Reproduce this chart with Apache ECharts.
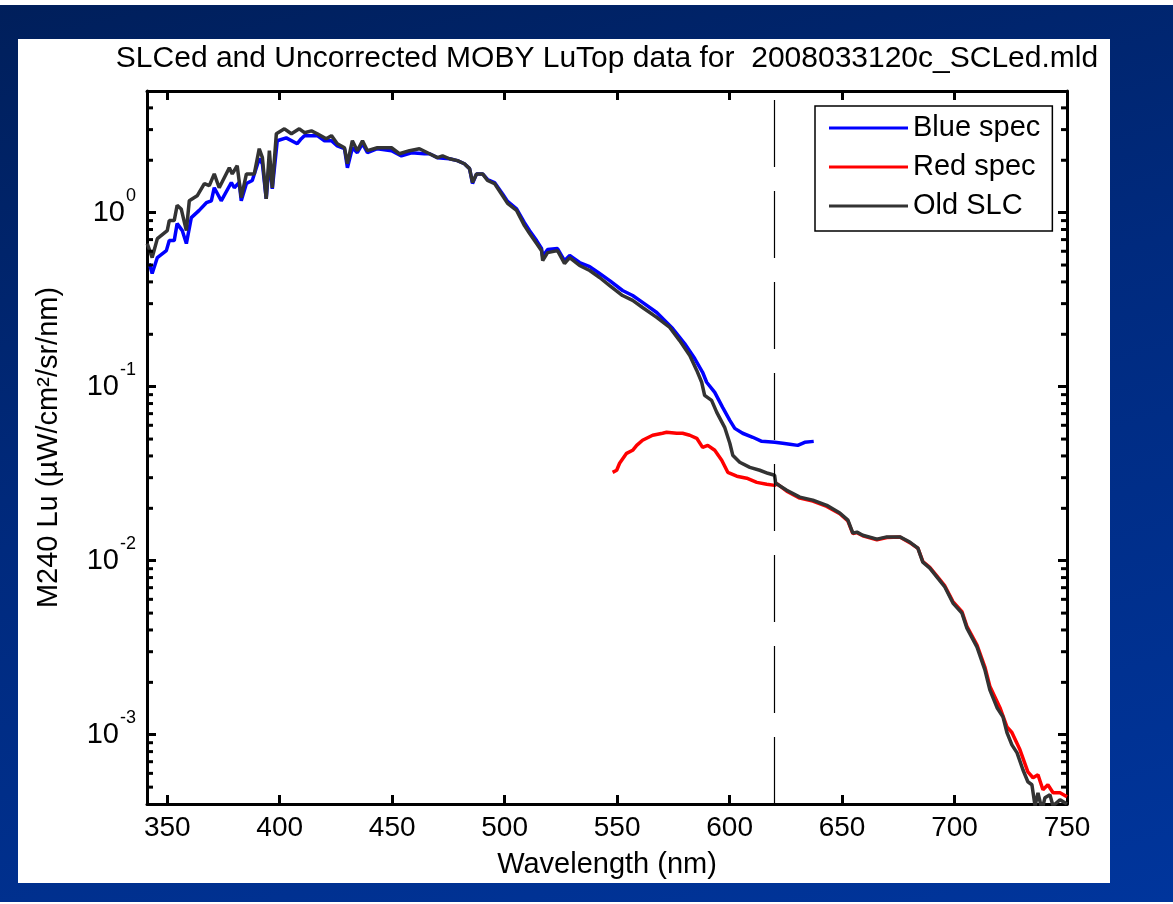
<!DOCTYPE html>
<html>
<head>
<meta charset="utf-8">
<script src="https://cdn.jsdelivr.net/npm/echarts@6/dist/echarts.min.js"></script>
<style>
  html, body { margin: 0; padding: 0; background: #fff; }
  #bg { position: absolute; left: 0; top: 5px; width: 1173px; height: 897px;
        background: linear-gradient(165deg, #001f5b 0%, #002a7e 45%, #00359c 100%); }
  #panel { position: absolute; left: 18px; top: 39px; width: 1092px; height: 844px; background: #fff; }
  #chart { position: absolute; left: 0; top: 0; width: 1173px; height: 904px; }
</style>
</head>
<body>
<div id="bg"></div>
<div id="panel"></div>
<div id="chart"></div>
<script>
// axis ranges
const xMin = 341, xMax = 750;
const yMin = 4e-4, yMax = 5;
const minorTicks = [5e-4, 6e-4, 7e-4, 8e-4, 9e-4,
  2e-3, 3e-3, 4e-3, 5e-3, 6e-3, 7e-3, 8e-3, 9e-3,
  2e-2, 3e-2, 4e-2, 5e-2, 6e-2, 7e-2, 8e-2, 9e-2,
  0.2, 0.3, 0.4, 0.5, 0.6, 0.7, 0.8, 0.9, 2, 3, 4];
const cutoffWl = 620;

// Blue spec
const blueWl = [342.0, 343.3, 345.6, 349.6, 350.9, 353.1, 354.4, 356.7, 358.5, 360.7, 364.2, 367.4, 369.6, 370.9,
  374.0, 378.5, 379.8, 382.0, 382.9, 385.2, 387.8, 390.9, 392.3, 394.0, 395.4, 396.7, 398.9, 402.9, 407.8, 409.6,
  411.0, 414.1, 416.7, 419.9, 423.0, 425.6, 428.8, 430.1, 432.3, 434.5, 436.8, 439.0, 443.4, 449.7, 454.1, 458.6,
  464.3, 466.6, 470.1, 475.5, 479.0, 482.1, 484.4, 485.7, 487.5, 490.2, 492.4, 495.5, 499.1, 501.3, 505.3, 508.8,
  511.1, 514.2, 516.4, 516.9, 519.1, 523.5, 526.6, 528.9, 533.3, 537.8, 542.2, 546.7, 552.4, 556.9, 561.3, 567.6,
  574.7, 580.0, 584.5, 588.0, 589.8, 593.4, 596.9, 600.1, 602.3, 605.8, 610.3, 614.3, 620.1, 623.6, 626.8, 630.3,
  633.4, 637.4];
const blueLu = [0.510, 0.447, 0.552, 0.605, 0.691, 0.691, 0.865, 0.788, 0.664, 0.936, 1.03, 1.14, 1.17, 1.39,
  1.17, 1.49, 1.39, 1.49, 1.17, 1.47, 1.53, 2.04, 1.91, 1.20, 1.99, 1.37, 2.59, 2.69, 2.49, 2.66,
  2.77, 2.77, 2.77, 2.59, 2.59, 2.42, 2.33, 1.81, 2.36, 2.21, 2.49, 2.21, 2.33, 2.27, 2.12, 2.21,
  2.18, 2.18, 2.07, 2.04, 1.99, 1.91, 1.79, 1.47, 1.67, 1.67, 1.55, 1.49, 1.28, 1.16, 1.05, 0.876,
  0.788, 0.691, 0.622, 0.559, 0.614, 0.622, 0.530, 0.567, 0.517, 0.490, 0.447, 0.407, 0.357, 0.334, 0.305, 0.267,
  0.216, 0.177, 0.145, 0.121, 0.106, 0.0927, 0.0761, 0.0641, 0.0576, 0.0540, 0.0512, 0.0485, 0.0479, 0.0473, 0.0467, 0.0460,
  0.0479, 0.0485];

// Red spec
const redWl = [548.0, 549.8, 551.1, 554.2, 556.9, 558.7, 561.3, 565.8, 570.2, 572.0, 576.5, 579.1, 582.3, 585.4,
  588.0, 590.3, 593.4, 596.5, 599.2, 603.2, 607.6, 612.1, 616.5, 620.1, 621.0, 625.4, 631.2, 637.0, 643.2, 649.0,
  652.6, 654.8, 656.6, 659.2, 665.5, 669.9, 675.7, 680.1, 683.7, 685.9, 689.0, 692.2, 695.7, 699.3, 703.3, 705.5,
  710.0, 713.5, 715.7, 720.2, 723.3, 725.5, 729.1, 732.6, 734.9, 737.1, 739.3, 741.5, 743.8, 746.9, 750.0];
const redLu = [0.0322, 0.0331, 0.0363, 0.0414, 0.0431, 0.0460, 0.0492, 0.0526, 0.0540, 0.0547, 0.0540, 0.0540, 0.0526, 0.0505,
  0.0448, 0.0460, 0.0431, 0.0378, 0.0322, 0.0306, 0.0298, 0.0282, 0.0275, 0.0271, 0.0277, 0.0251, 0.0229, 0.0220, 0.0205, 0.0186,
  0.0169, 0.0143, 0.0145, 0.0139, 0.0132, 0.0136, 0.0137, 0.0127, 0.0118, 0.00990, 0.00915, 0.00815, 0.00716, 0.00582, 0.00510, 0.00420,
  0.00328, 0.00245, 0.00190, 0.00143, 0.00111, 0.00103, 0.000819, 0.000612, 0.000566, 0.000589, 0.000483, 0.000516, 0.000464, 0.000464, 0.000440];

// Old SLC
const oldWl = [341.1, 343.3, 345.6, 350.0, 350.9, 353.1, 354.4, 356.2, 358.5, 359.8, 363.3, 366.5, 368.7, 370.9,
  373.1, 377.6, 378.9, 381.1, 382.9, 385.2, 388.7, 390.9, 392.3, 394.0, 395.4, 396.7, 398.5, 402.1, 405.2, 408.7,
  411.0, 414.1, 416.7, 420.7, 423.0, 425.6, 428.8, 430.1, 432.3, 434.5, 436.8, 439.0, 443.4, 449.7, 453.2, 457.7,
  462.1, 466.6, 470.1, 472.4, 475.5, 479.0, 482.1, 484.4, 485.7, 487.5, 490.2, 492.4, 495.5, 499.1, 501.3, 505.3,
  508.8, 511.1, 514.2, 516.4, 516.9, 519.1, 523.5, 526.6, 528.9, 533.3, 537.8, 542.2, 546.7, 552.4, 556.9, 561.3,
  567.6, 573.4, 577.8, 582.3, 585.4, 587.6, 588.9, 592.0, 594.3, 597.8, 600.1, 601.4, 604.5, 609.0, 613.4, 617.0,
  620.0, 620.5, 625.4, 631.2, 637.0, 643.2, 649.0, 652.6, 654.8, 656.6, 659.2, 665.5, 669.9, 675.7, 680.1, 683.7,
  685.9, 689.0, 692.2, 695.7, 699.3, 703.3, 705.5, 710.0, 713.5, 715.7, 718.9, 721.5, 723.3, 725.5, 727.8, 730.4,
  732.6, 734.4, 735.8, 737.1, 738.9, 740.2, 742.4, 743.8, 746.9, 750.0];
const oldLu = [0.664, 0.552, 0.709, 0.788, 0.900, 0.900, 1.10, 1.05, 0.788, 1.17, 1.25, 1.47, 1.43, 1.67,
  1.39, 1.81, 1.67, 1.86, 1.22, 1.67, 1.67, 2.33, 2.07, 1.20, 2.27, 1.39, 2.84, 3.03, 2.84, 3.03,
  2.88, 2.95, 2.84, 2.66, 2.77, 2.49, 2.36, 1.91, 2.59, 2.27, 2.59, 2.27, 2.36, 2.36, 2.18, 2.27,
  2.33, 2.18, 2.07, 2.12, 2.04, 1.99, 1.91, 1.79, 1.49, 1.67, 1.67, 1.53, 1.47, 1.25, 1.13, 1.03,
  0.842, 0.758, 0.664, 0.605, 0.530, 0.589, 0.605, 0.510, 0.552, 0.497, 0.465, 0.424, 0.381, 0.334, 0.313, 0.285,
  0.250, 0.219, 0.184, 0.151, 0.124, 0.106, 0.0892, 0.0834, 0.0712, 0.0584, 0.0473, 0.0404, 0.0368, 0.0344, 0.0331, 0.0318,
  0.0310, 0.0279, 0.0254, 0.0232, 0.0223, 0.0208, 0.0188, 0.0171, 0.0144, 0.0146, 0.0140, 0.0133, 0.0137, 0.0137, 0.0128, 0.0118,
  0.00982, 0.00907, 0.00805, 0.00706, 0.00571, 0.00500, 0.00410, 0.00319, 0.00236, 0.00181, 0.00143, 0.00127, 0.00103, 0.000875, 0.000787, 0.000629,
  0.000537, 0.000516, 0.000390, 0.000464, 0.000370, 0.000435, 0.000452, 0.000390, 0.000423, 0.000400];

const font = "'Liberation Sans', Arial, sans-serif";
const zip = (xs, ys) => xs.map((x, i) => [x, ys[i]]);

function minorTickItem(params, api) {
  const y = api.coord([api.value(0), api.value(1)])[1];
  const cs = params.coordSys;
  const st = { stroke: '#000', lineWidth: 3 };
  return {
    type: 'group',
    children: [
      { type: 'line', shape: { x1: cs.x, y1: y, x2: cs.x + 6, y2: y }, style: st },
      { type: 'line', shape: { x1: cs.x + cs.width, y1: y, x2: cs.x + cs.width - 6, y2: y }, style: st }
    ]
  };
}

function powLabel(v) {
  const l = Math.log10(v);
  const e = Math.round(l);
  if (Math.abs(l - e) > 1e-6) return '';
  return '{b|10}{s|' + e + '}';
}

const chart = echarts.init(document.getElementById('chart'));
const axisLine = { show: true, onZero: false, lineStyle: { color: '#000', width: 3 } };
const axisTick = { show: true, inside: true, length: 9, lineStyle: { color: '#000', width: 3 } };

chart.setOption({
  animation: false,
  grid: { left: 147, right: 106, top: 91, bottom: 100, containLabel: false },
  legend: {
    data: ['Blue spec', 'Red spec', 'Old SLC'],
    orient: 'vertical',
    left: 815, top: 106,
    padding: [7, 12, 10, 14],
    itemGap: 9,
    itemWidth: 79, itemHeight: 3,
    icon: 'rect',
    backgroundColor: '#fff',
    borderColor: '#000', borderWidth: 1.5, borderRadius: 0,
    textStyle: { fontFamily: font, fontSize: 29, color: '#000', lineHeight: 30 }
  },
  xAxis: [
    {
      type: 'value', position: 'bottom', min: xMin, max: xMax, splitNumber: 8,
      name: 'Wavelength (nm)', nameLocation: 'middle', nameGap: 46,
      nameTextStyle: { fontFamily: font, fontSize: 29, color: '#000' },
      axisLine: axisLine, axisTick: axisTick, splitLine: { show: false },
      axisLabel: { fontFamily: font, fontSize: 28, color: '#000', margin: 10, showMinLabel: false,
        formatter: v => (v % 50 === 0 ? String(v) : '') }
    },
    {
      type: 'value', position: 'top', min: xMin, max: xMax, splitNumber: 8,
      name: 'SLCed and Uncorrected MOBY LuTop data for  2008033120c_SCLed.mld',
      nameLocation: 'middle', nameGap: 17,
      nameTextStyle: { fontFamily: font, fontSize: 30, color: '#000' },
      axisLine: axisLine, axisTick: axisTick, splitLine: { show: false },
      axisLabel: { show: false }
    }
  ],
  yAxis: [
    {
      type: 'log', logBase: 10, position: 'left', min: yMin, max: yMax,
      name: 'M240 Lu (µW/cm²/sr/nm)', nameLocation: 'middle', nameGap: 84,
      nameTextStyle: { fontFamily: font, fontSize: 29, color: '#000' },
      axisLine: axisLine, axisTick: axisTick, splitLine: { show: false },
      axisLabel: {
        margin: 11, formatter: powLabel, fontFamily: font, fontSize: 29, color: '#000',
        rich: {
          b: { fontFamily: font, fontSize: 29, color: '#000' },
          s: { fontFamily: font, fontSize: 18, color: '#000', padding: [0, 0, 34, 1] }
        }
      }
    },
    {
      type: 'log', logBase: 10, position: 'right', min: yMin, max: yMax,
      axisLine: axisLine, axisTick: axisTick, splitLine: { show: false },
      axisLabel: { show: false }
    }
  ],
  series: [
    {
      name: 'Blue spec', type: 'line', data: zip(blueWl, blueLu),
      symbol: 'none', lineStyle: { color: '#0000ff', width: 3.5 }, itemStyle: { color: '#0000ff' }
    },
    {
      name: 'Red spec', type: 'line', data: zip(redWl, redLu),
      symbol: 'none', lineStyle: { color: '#ff0000', width: 3.5 }, itemStyle: { color: '#ff0000' }
    },
    {
      name: 'Old SLC', type: 'line', data: zip(oldWl, oldLu),
      symbol: 'none', lineStyle: { color: '#333333', width: 3.5 }, itemStyle: { color: '#333333' },
      markLine: {
        silent: true, symbol: ['none', 'none'], label: { show: false },
        lineStyle: { color: '#000', width: 1.2, type: [67, 24] },
        data: [{ xAxis: cutoffWl }]
      }
    },
    {
      type: 'custom', silent: true, clip: false, z: 5,
      renderItem: minorTickItem,
      data: minorTicks.map(v => [xMin, v])
    }
  ]
});
</script>
</body>
</html>
